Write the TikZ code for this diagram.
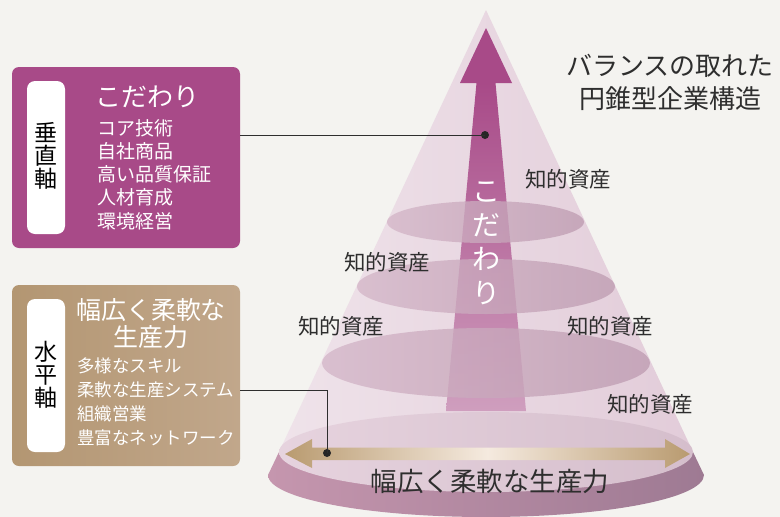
\documentclass[tikz,border=0pt]{standalone}
\usepackage{fontspec}
\setmainfont{Noto Sans CJK JP}
\definecolor{bg}{HTML}{F4F3F0}
\definecolor{plum}{HTML}{A84A88}
\definecolor{ink}{HTML}{2E2E2E}
\definecolor{tanL}{HTML}{B39672}
\definecolor{tanR}{HTML}{C1A78B}
\definecolor{coneL}{HTML}{EFE3EA}
\definecolor{coneR}{HTML}{E2CCD9}
\definecolor{discL}{HTML}{D4B6C8}
\definecolor{discR}{HTML}{BE9CB1}
\definecolor{baseL}{HTML}{E6D3DE}
\definecolor{baseR}{HTML}{D5BECC}
\definecolor{bandL}{HTML}{C596AE}
\definecolor{bandR}{HTML}{9E7A93}
\definecolor{gold}{HTML}{B99B70}
\definecolor{goldC}{HTML}{F5EADF}
\begin{document}
\begin{tikzpicture}[x=1pt,y=-1pt,
  listone/.style={anchor=west,inner sep=0pt,text=white,font=\fontsize{19}{20}\selectfont},
  listtwo/.style={anchor=west,inner sep=0pt,text=white,font=\fontsize{17.5}{20}\selectfont},
  asset/.style={inner sep=0pt,text=ink,font=\fontsize{21.5}{22}\selectfont},
  disc/.style={left color=discL,right color=discR,fill opacity=0.78},
  leader/.style={draw=ink,line width=0.9pt},
  dotmark/.style={circle,fill=black!85,inner sep=0pt,minimum size=8pt}]
\useasboundingbox (0,0) rectangle (780,517);
\fill[bg] (0,0) rectangle (780,517);

% base plate
\shade[left color=bandL,right color=bandR]
  (279,452) -- (268,475) arc[start angle=180,end angle=0,x radius=218,y radius=42] -- (693,452) -- cycle;
% cone body
\shade[left color=coneL,right color=coneR] (486,10) -- (279,452) -- (693,452) -- cycle;
% base top surface
\shade[left color=baseL,right color=baseR] (486,452) ellipse[x radius=207,y radius=40];

% vertical arrow
\shade[top color=plum,bottom color=plum!45!coneL] (476.5,83) -- (495.5,83) -- (526,411) -- (446,411) -- cycle;
\fill[plum] (460,83) -- (486,28) -- (512,83) -- cycle;

% discs
\shade[disc] (485.5,222) ellipse[x radius=98.5,y radius=21];
\shade[disc] (486,286.5) ellipse[x radius=129,y radius=27.5];
\shade[disc] (486,363) ellipse[x radius=164,y radius=35];

% horizontal arrow
\shade[left color=gold,right color=gold,middle color=goldC]
  (285,454) -- (312,439) -- (312,447.5) -- (665,447.5) -- (665,439) -- (690,454)
  -- (665,468) -- (665,460) -- (312,460) -- (312,468) -- cycle;

% vertical arrow label
\node[text=white,align=center,inner sep=0pt,font=\fontsize{28}{34}\selectfont] (kodawariV) at (486,243) {こ\\だ\\わ\\り};

% asset labels
\node[asset] (a1) at (568,179) {知的資産};
\node[asset] (a2) at (387,262) {知的資産};
\node[asset] (a3) at (341,326) {知的資産};
\node[asset] (a4) at (610,326) {知的資産};
\node[asset] (a5) at (650,404) {知的資産};

% bottom label
\node[inner sep=0pt,text=ink,font=\fontsize{26.5}{28}\selectfont] (flex) at (490,481) {幅広く柔軟な生産力};

% title
\node[inner sep=0pt,text=ink,align=center,font=\fontsize{26}{33}\selectfont] (title) at (670,82) {バランスの取れた\\円錐型企業構造};

% box 1
\fill[plum,rounded corners=7pt] (12,67) rectangle (240,248);
\fill[white,rounded corners=8pt] (27,81) rectangle (65,234);
\coordinate (b1r) at (240,135);
\node[inner sep=0pt,align=center,text=black,font=\fontsize{23}{23}\selectfont] (vax) at (46,156) {垂\\直\\軸};
\node[inner sep=0pt,text=white,font=\fontsize{26}{26}\selectfont] (kod) at (147,97) {こだわり};
\node[listone] (l11) at (97,128) {コア技術};
\node[listone] (l12) at (97,151) {自社商品};
\node[listone] (l13) at (97,174) {高い品質保証};
\node[listone] (l14) at (97,197) {人材育成};
\node[listone] (l15) at (97,221) {環境経営};

% box 2
\shade[left color=tanL,right color=tanR,rounded corners=7pt] (12,285) rectangle (240,466);
\fill[white,rounded corners=8pt] (27,299) rectangle (65,452);
\coordinate (b2r) at (240,390);
\node[inner sep=0pt,align=center,text=black,font=\fontsize{23}{23}\selectfont] (hax) at (46,375) {水\\平\\軸};
\node[inner sep=0pt,align=center,text=white,font=\fontsize{25}{27}\selectfont] (flexT) at (151,324) {幅広く柔軟な\\生産力};
\node[listtwo] (l21) at (77,366) {多様なスキル};
\node[listtwo] (l22) at (77,390) {柔軟な生産システム};
\node[listtwo] (l23) at (77,414) {組織営業};
\node[listtwo] (l24) at (77,438) {豊富なネットワーク};

% leaders
\node[dotmark] (d1) at (485,135) {};
\node[dotmark] (d2) at (327,453) {};
\draw[leader] (b1r) -- (d1.center);
\draw[leader] (b2r) -| (d2.center);
\end{tikzpicture}
\end{document}
